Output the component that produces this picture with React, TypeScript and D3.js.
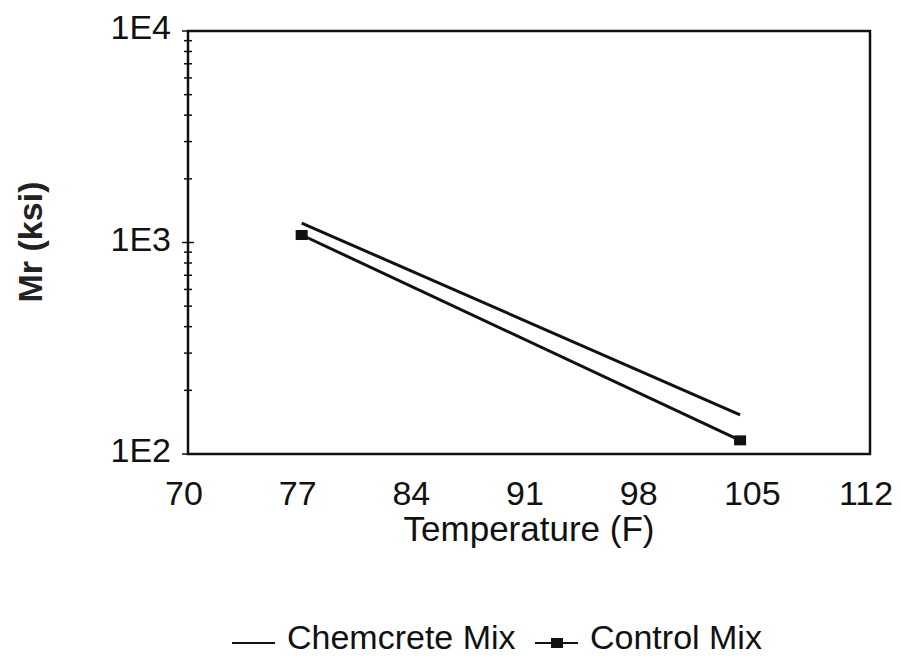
import React from "react"
import * as d3 from "d3"

const temps = [77, 104]
const chemcrete = [1236, 153]
const control = [1085, 116]
const xTicks = [70, 77, 84, 91, 98, 105, 112]
const yTicks = [100, 1000, 10000]
const yTickLabels = ["1E2", "1E3", "1E4"]

export default function App() {
  const ref = React.useRef<SVGSVGElement>(null)

  React.useEffect(() => {
    const width = 901
    const height = 660
    const margin = { top: 31, right: 31, bottom: 206, left: 188 }
    const svg = d3.select(ref.current)
    svg.selectAll("*").remove()

    const x = d3.scaleLinear().domain([70, 112]).range([margin.left, width - margin.right])
    const y = d3.scaleLog().domain([100, 10000]).range([height - margin.bottom, margin.top])
    const font = "'Liberation Sans', Arial, sans-serif"

    // frame
    svg.append("rect")
      .attr("x", margin.left).attr("y", margin.top)
      .attr("width", x(112) - x(70)).attr("height", y(100) - y(10000))
      .attr("fill", "none").attr("stroke", "#111").attr("stroke-width", 2.5)

    // minor ticks on log axis
    const minors: number[] = []
    for (let dec = 100; dec < 10000; dec *= 10) {
      for (let k = 2; k <= 9; k++) minors.push(dec * k)
    }
    svg.append("g").selectAll("line").data(minors).enter().append("line")
      .attr("x1", margin.left - 4).attr("x2", margin.left + 4)
      .attr("y1", (d) => y(d)).attr("y2", (d) => y(d))
      .attr("stroke", "#111").attr("stroke-width", 1.5)
    svg.append("g").selectAll("line").data(yTicks).enter().append("line")
      .attr("x1", margin.left - 6).attr("x2", margin.left + 6)
      .attr("y1", (d) => y(d)).attr("y2", (d) => y(d))
      .attr("stroke", "#111").attr("stroke-width", 1.5)

    svg.append("g").selectAll("text").data(yTicks).enter().append("text")
      .attr("x", margin.left - 17).attr("y", (d) => y(d) + 8)
      .attr("text-anchor", "end").attr("font-family", font).attr("font-size", 34)
      .attr("fill", "#111")
      .text((d, i) => yTickLabels[i])

    svg.append("g").selectAll("text").data(xTicks).enter().append("text")
      .attr("x", (d) => x(d) - 4).attr("y", y(100) + 51)
      .attr("text-anchor", "middle").attr("font-family", font).attr("font-size", 34)
      .attr("fill", "#111")
      .text((d) => d)

    svg.append("text")
      .attr("x", x(91)).attr("y", y(100) + 87)
      .attr("text-anchor", "middle").attr("font-family", font).attr("font-size", 35)
      .attr("fill", "#111")
      .text("Temperature (F)")

    svg.append("text")
      .attr("transform", `translate(42,242) rotate(-90)`)
      .attr("text-anchor", "middle").attr("font-family", font).attr("font-size", 34)
      .attr("font-weight", "bold").attr("fill", "#222")
      .text("Mr (ksi)")

    const line = d3.line<number>().x((d, i) => x(temps[i])).y((d) => y(d))

    svg.append("path").datum(chemcrete).attr("d", line)
      .attr("fill", "none").attr("stroke", "#111").attr("stroke-width", 3)
    svg.append("path").datum(control).attr("d", line)
      .attr("fill", "none").attr("stroke", "#111").attr("stroke-width", 3)
    svg.append("g").selectAll("rect").data(control).enter().append("rect")
      .attr("x", (d, i) => x(temps[i]) - 6).attr("y", (d) => y(d) - 5)
      .attr("width", 12).attr("height", 10).attr("fill", "#111")

    // legend
    const ly = 643
    const lg = svg.append("g")
    lg.append("line").attr("x1", 232).attr("x2", 275).attr("y1", ly).attr("y2", ly)
      .attr("stroke", "#111").attr("stroke-width", 2)
    lg.append("text").attr("x", 287).attr("y", ly + 6)
      .attr("font-family", font).attr("font-size", 34).attr("fill", "#111")
      .text("Chemcrete Mix")
    lg.append("line").attr("x1", 535).attr("x2", 578).attr("y1", ly).attr("y2", ly)
      .attr("stroke", "#111").attr("stroke-width", 2)
    lg.append("rect").attr("x", 551).attr("y", ly - 5).attr("width", 12).attr("height", 10)
      .attr("fill", "#111")
    lg.append("text").attr("x", 590).attr("y", ly + 6)
      .attr("font-family", font).attr("font-size", 34).attr("fill", "#111")
      .text("Control Mix")
  }, [])

  return (
    <svg ref={ref} width={901} height={660}
      style={{ position: "absolute", left: 0, top: 0, background: "#fff" }} />
  )
}
